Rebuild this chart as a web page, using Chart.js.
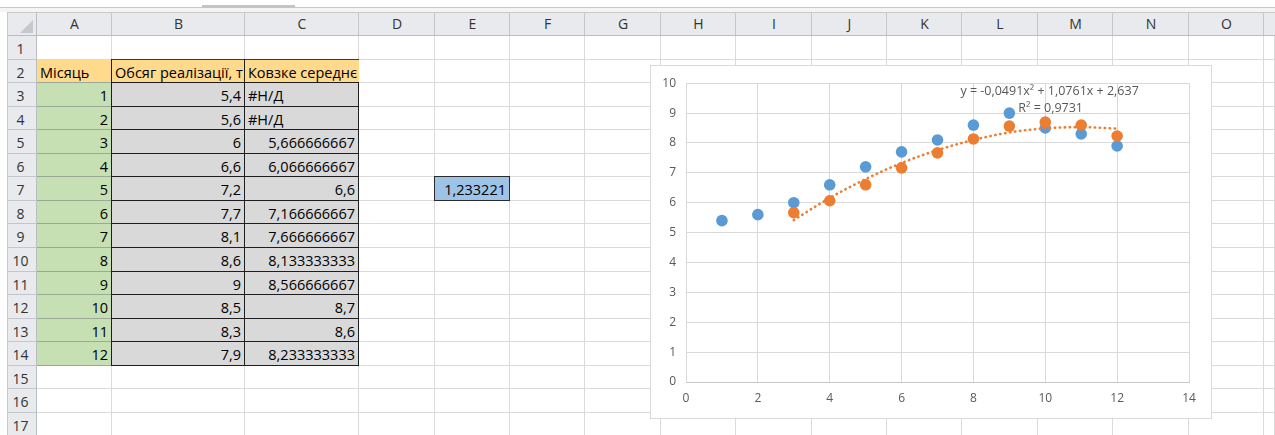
<!DOCTYPE html>
<html>
<head>
<meta charset="utf-8">
<script src="https://cdn.jsdelivr.net/npm/chart.js@4.4.1/dist/chart.umd.min.js"></script>
<style>
html,body{margin:0;padding:0;width:1275px;height:435px;overflow:hidden;background:#fff;font-family:"Open Sans","Noto Sans",sans-serif;}
#sheet{position:absolute;left:0;top:0;width:1275px;height:435px;overflow:hidden;}
.d{position:absolute;box-sizing:border-box;}
.t{position:absolute;box-sizing:border-box;overflow:hidden;white-space:nowrap;font-size:14.5px;color:#000;}
.h{position:absolute;box-sizing:border-box;text-align:center;font-size:14px;color:#333;white-space:nowrap;}
#chartBox{position:absolute;left:650px;top:65px;width:562px;height:354px;box-sizing:border-box;border:1px solid #d9d9d9;background:#fff;}
#chartBox canvas{display:block;}
</style>
</head>
<body>
<div id="sheet"></div>
<div id="chartBox"><canvas id="chart"></canvas></div>
<script>
// ---- data ----
const months = [1, 2, 3, 4, 5, 6, 7, 8, 9, 10, 11, 12];
const sales = [5.4, 5.6, 6, 6.6, 7.2, 7.7, 8.1, 8.6, 9, 8.5, 8.3, 7.9];
const movingAvg = [null, null, 5.666666667, 6.066666667, 6.6, 7.166666667, 7.666666667, 8.133333333, 8.566666667, 8.7, 8.6, 8.233333333];
const trendX = [3, 4, 5, 6, 7, 8, 9, 10, 11, 12];
const trendY = [5.42, 6.16, 6.79, 7.33, 7.76, 8.10, 8.35, 8.49, 8.53, 8.48];
const xTicks = [0, 2, 4, 6, 8, 10, 12, 14];
const yTicks = [0, 1, 2, 3, 4, 5, 6, 7, 8, 9, 10];
const columnLetters = ['A','B','C','D','E','F','G','H','I','J','K','L','M','N','O'];
const headerTexts = ['Місяць', 'Обсяг реалізації, т', 'Ковзке середнє'];
const naText = '#Н/Д';
const e7Text = '1,233221';
const trendEquation = 'y = -0,0491x² + 1,0761x + 2,637';
const trendR2 = 'R² = 0,9731';

// ---- spreadsheet layout ----
const sheet = document.getElementById('sheet');
function box(x, y, w, h, css, cls, txt) {
  const e = document.createElement('div');
  e.className = cls || 'd';
  e.style.left = x + 'px'; e.style.top = y + 'px';
  e.style.width = w + 'px'; e.style.height = h + 'px';
  if (css) e.style.cssText += css;
  if (txt !== undefined) e.textContent = txt;
  sheet.appendChild(e);
  return e;
}
const colEdges = [37, 112, 245, 359, 435, 510];
for (let k = 1; k <= 10; k++) colEdges.push(510 + k * 75.4);
const RH = 23.56;
const rowTop = r => 36 + (r - 1) * RH;
const R = Math.round;

// top band
box(0, 7, 1275, 1, 'background:#c9c9c9');
box(0, 8, 1275, 4, 'background:#f4f4f4');
box(202, 5, 93, 3, 'background:#c4c4c4');

// gridlines
for (let r = 1; r <= 18; r++) box(37, R(rowTop(r + 1)) - 1, 1238, 1, 'background:#dadada');
for (let i = 1; i < colEdges.length; i++) box(R(colEdges[i]) - 1, 36, 1, 400, 'background:#dadada');
box(1275 - 1, 36, 1, 400, 'background:#dadada');

// column headers
box(7, 12, 1268, 24, 'background:#e8eaed;border-top:1px solid #c9c9c9;border-bottom:1px solid #b9bcc0');
for (let i = 0; i < columnLetters.length; i++) {
  const x0 = colEdges[i], x1 = colEdges[i + 1];
  box(R(x0), 13, R(x1) - R(x0), 22, 'line-height:22px', 'h', columnLetters[i]);
  box(R(x1) - 1, 13, 1, 22, 'background:#c3c7cc');
}
// row headers
box(7, 36, 30, 400, 'background:#e8eaed;border-right:1px solid #b9bcc0');
box(7, 12, 30, 24, 'background:#e8eaed;border-right:1px solid #b9bcc0;border-bottom:1px solid #b9bcc0;border-top:1px solid #c9c9c9');
box(7, 12, 1, 424, 'background:#c9c9c9');
box(20, 20, 13, 13, 'background:#c4c7cb;clip-path:polygon(100% 0,100% 100%,0 100%)');
for (let r = 1; r <= 17; r++) {
  const y0 = R(rowTop(r)), y1 = R(rowTop(r + 1));
  box(7, y0, 27, y1 - y0, 'line-height:' + (y1 - y0) + 'px;padding-top:1px', 'h', String(r));
  box(7, y1 - 1, 30, 1, 'background:#c3c7cc');
}

// cell helper
function cellRect(c0, c1, r) {
  const x0 = R(colEdges[c0]), x1 = R(colEdges[c1 + 1]);
  const y0 = R(rowTop(r)), y1 = R(rowTop(r + 1));
  return [x0, y0, x1 - x0, y1 - y0];
}
function fill(c0, c1, r, color) {
  const [x, y, w, h] = cellRect(c0, c1, r);
  box(x, y, w, h, 'background:' + color);
}
function text(c, r, str, align) {
  const [x, y, w, h] = cellRect(c, c, r);
  box(x, y, w - 1, h, 'line-height:' + h + 'px;padding:1px 3px 0 3px;text-align:' + align, 't', str);
}
const fmt = v => String(v).replace('.', ',');

// fills
fill(0, 2, 2, '#FFD98C');
for (let i = 0; i < months.length; i++) {
  fill(0, 0, i + 3, '#C6E0B4');
  fill(1, 2, i + 3, '#D9D9D9');
}
fill(4, 4, 7, '#9DC3E6');

// texts
headerTexts.forEach((s, i) => text(i, 2, s, 'left'));
for (let i = 0; i < months.length; i++) {
  text(0, i + 3, fmt(months[i]), 'right');
  text(1, i + 3, fmt(sales[i]), 'right');
  if (movingAvg[i] === null) text(2, i + 3, naText, 'left');
  else text(2, i + 3, fmt(movingAvg[i]), 'right');
}
text(4, 7, e7Text, 'right');

// borders
const top2 = R(rowTop(2)), top3 = R(rowTop(3)), bot14 = R(rowTop(15));
const xA = R(colEdges[1]), xB = R(colEdges[2]), xC = R(colEdges[3]);
for (let r = 3; r <= 15; r++) {
  const y = R(rowTop(r)) - 1;
  box(37, y, xA - 37, 1, 'background:#9aa894');
  box(xA - 1, y, xC - xA + 1, 1, 'background:#1e1e1e');
}
box(xA - 1, top2 - 1, xC - xA + 1, 1, 'background:#3a3a3a');
box(xA - 1, top2 - 1, 1, bot14 - top2 + 1, 'background:#1e1e1e');
box(xB - 1, top2 - 1, 1, bot14 - top2 + 1, 'background:#1e1e1e');
box(xC - 1, top3 - 1, 1, bot14 - top3 + 1, 'background:#1e1e1e');
{
  const [x, y, w, h] = cellRect(4, 4, 7);
  box(x - 1, y - 1, w + 1, h + 1, 'border:1px solid #2b2b2b');
}

// ---- chart ----
Chart.defaults.font.family = '"Open Sans","Noto Sans",sans-serif';
const salesPts = months.map((m, i) => ({ x: m, y: sales[i] }));
const avgPts = months.map((m, i) => ({ x: m, y: movingAvg[i] })).filter(p => p.y !== null);
const trendPts = trendX.map((v, i) => ({ x: v, y: trendY[i] }));

const trendLabel = {
  id: 'trendLabel',
  afterDatasetsDraw(chart) {
    const { ctx, scales: { x, y } } = chart;
    ctx.save();
    ctx.font = '12.5px "Open Sans","Noto Sans",sans-serif';
    ctx.fillStyle = '#595959';
    ctx.textAlign = 'center';
    ctx.textBaseline = 'middle';
    ctx.fillText(trendEquation, x.getPixelForValue(10.12), y.getPixelForValue(9.72));
    ctx.fillText(trendR2, x.getPixelForValue(10.15), y.getPixelForValue(9.15));
    ctx.restore();
  }
};

new Chart(document.getElementById('chart'), {
  type: 'scatter',
  data: {
    datasets: [
      { label: 'trend', data: trendPts, showLine: true, order: 0,
        borderColor: '#ED7D31', borderWidth: 2.6, borderDash: [0.4, 4.6], borderCapStyle: 'round',
        cubicInterpolationMode: 'monotone', pointRadius: 0, fill: false },
      { label: 'avg', data: avgPts, order: 1, backgroundColor: '#ED7D31', borderWidth: 0, pointRadius: 5.8 },
      { label: 'sales', data: salesPts, order: 2, backgroundColor: '#5B9BD5', borderWidth: 0, pointRadius: 5.8 }
    ]
  },
  options: {
    responsive: true, maintainAspectRatio: false, animation: false,
    layout: { padding: { left: 0, right: 22, top: 16, bottom: 0 } },
    plugins: { legend: { display: false }, tooltip: { enabled: false } },
    scales: {
      x: {
        type: 'linear', min: 0, max: 14,
        afterBuildTicks: s => { s.ticks = xTicks.map(v => ({ value: v })); },
        afterFit: s => { s.height = 36; },
        grid: { color: '#d9d9d9', drawTicks: false },
        border: { color: '#c8c8c8' },
        ticks: { padding: 9, color: '#595959', font: { size: 12 } }
      },
      y: {
        type: 'linear', min: 0, max: 10,
        afterBuildTicks: s => { s.ticks = yTicks.map(v => ({ value: v })); },
        afterFit: s => { s.width = 35; },
        grid: { color: '#d9d9d9', drawTicks: false },
        border: { color: '#d9d9d9' },
        ticks: { padding: 10, color: '#595959', font: { size: 12 } }
      }
    }
  },
  plugins: [trendLabel]
});
</script>
</body>
</html>
